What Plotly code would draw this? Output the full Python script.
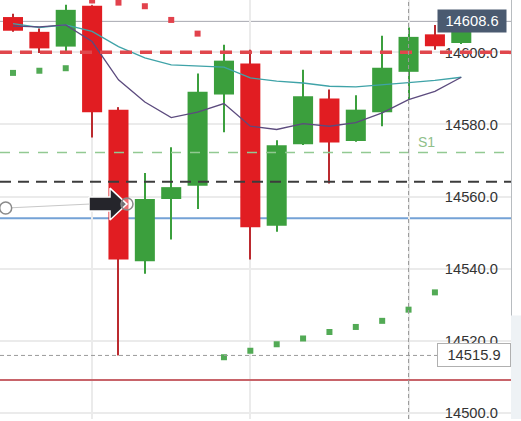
import plotly.graph_objects as go

# ---------------- data ----------------
candle_idx = list(range(18))
opens  = [14609.8, 14605.7, 14601.6, 14612.9, 14584.1, 14542.0, 14559.3, 14563.0, 14588.3,
          14596.9, 14551.9, 14574.5, 14587.2, 14575.4, 14583.4, 14594.6, 14605.0, 14602.6]
highs  = [14610.7, 14606.6, 14613.2, 14613.1, 14584.8, 14566.5, 14573.7, 14594.1, 14602.1,
          14600.7, 14575.6, 14595.2, 14589.7, 14588.1, 14604.6, 14606.9, 14607.6, 14609.4]
lows   = [14605.7, 14599.8, 14600.2, 14576.4, 14515.9, 14538.6, 14548.1, 14556.5, 14577.8,
          14542.5, 14550.2, 14574.3, 14563.6, 14575.2, 14579.5, 14586.9, 14600.7, 14602.3]
closes = [14606.0, 14601.1, 14611.8, 14583.4, 14542.5, 14559.3, 14562.6, 14589.1, 14597.7,
          14551.5, 14574.2, 14587.8, 14575.0, 14584.1, 14595.7, 14604.3, 14601.7, 14608.6]

ma_fast = [14607.3, 14607.1, 14607.6, 14603.0, 14592.4, 14586.2, 14581.9, 14583.4, 14585.8,
           14579.5, 14578.6, 14580.2, 14579.5, 14580.5, 14583.2, 14586.9, 14589.2, 14593.1]
ma_slow = [14608.0, 14606.9, 14607.6, 14605.8, 14601.6, 14598.5, 14596.5, 14596.1, 14595.9,
           14592.9, 14592.0, 14591.5, 14590.6, 14590.4, 14590.9, 14591.6, 14592.2, 14593.1]

sar_down_idx = [3, 4, 5, 6, 7]
sar_down = [14614.4, 14613.8, 14612.8, 14609.0, 14605.2]
sar_up_idx = [0, 1, 2, 8, 9, 10, 11, 12, 13, 14, 15, 16]
sar_up = [14594.3, 14594.9, 14595.6, 14515.4, 14517.2, 14519.0, 14520.6, 14522.4,
          14523.8, 14525.5, 14528.6, 14533.4]

last_price = 14608.6
level_red_dash = 14600.0
level_s1 = 14572.2
level_black_dash = 14564.1
level_blue = 14554.0
cross_price = 14515.9
cross_idx = 15
level_red = 14509.1
arrow_start = (-0.277, 14556.8)
arrow_end = (4.323, 14557.9)

y_ticks = [14500, 14520, 14540, 14560, 14580, 14600]
x_grid = [3, 9, 15]

X_RANGE = [-0.493, 18.885]
Y_RANGE = [14498.26, 14614.53]
W, H = 521, 421
PLOT_W = W - 10

# ---------------- figure ----------------
GREEN = "#3b9f3d"
RED = "#e11d22"
RED_WICK = "#bb2a2f"

fig = go.Figure()

up = [i for i in candle_idx if closes[i] >= opens[i]]
dn = [i for i in candle_idx if closes[i] < opens[i]]

for ids, wc in ((up, GREEN), (dn, RED_WICK)):
    fig.add_trace(go.Bar(x=ids, base=[lows[i] for i in ids],
                         y=[highs[i] - lows[i] for i in ids], width=0.04,
                         marker=dict(color=wc, line=dict(width=0)),
                         hoverinfo="skip", showlegend=False))
for ids, bc in ((up, GREEN), (dn, RED)):
    fig.add_trace(go.Bar(x=ids, base=[min(opens[i], closes[i]) for i in ids],
                         y=[abs(closes[i] - opens[i]) for i in ids], width=0.76,
                         marker=dict(color=bc, line=dict(width=0)),
                         hoverinfo="skip", showlegend=False))

fig.add_trace(go.Scatter(x=candle_idx, y=ma_slow, mode="lines",
                         line=dict(color="#3fa3a8", width=1.3), showlegend=False))
fig.add_trace(go.Scatter(x=candle_idx, y=ma_fast, mode="lines",
                         line=dict(color="#5c4b7e", width=1.3), showlegend=False))
fig.add_trace(go.Scatter(x=sar_down_idx, y=sar_down, mode="markers",
                         marker=dict(symbol="square", size=6, color="#e2424c"),
                         showlegend=False))
fig.add_trace(go.Scatter(x=sar_up_idx, y=sar_up, mode="markers",
                         marker=dict(symbol="square", size=6, color="#52aa55"),
                         showlegend=False))

# drawing tool: arrow icon (outline in screen pixels, converted to data units)
px_x = PLOT_W / (X_RANGE[1] - X_RANGE[0])
px_y = H / (Y_RANGE[1] - Y_RANGE[0])
icon = [(-38, -7), (-17, -7), (-17, -16), (0, 0), (-17, 16), (-17, 7), (-38, 7), (-38, -7)]
ax, ay = arrow_end
fig.add_trace(go.Scatter(x=[ax + dx / px_x for dx, dy in icon],
                         y=[ay - dy / px_y for dx, dy in icon],
                         mode="lines", fill="toself", fillcolor="#25252b",
                         line=dict(color="white", width=1.5), hoverinfo="skip",
                         showlegend=False))

def hline(y, color, width, dash="solid", layer="above"):
    fig.add_shape(type="line", xref="paper", x0=0, x1=1, yref="y", y0=y, y1=y,
                  line=dict(color=color, width=width, dash=dash), layer=layer)

hline(last_price, "#a6a7b0", 1, layer="below")
hline(level_red_dash, "#e0474c", 3.5, "12px,8px")
hline(level_s1, "#92c992", 1.5, "10px,9px")
hline(level_black_dash, "#3c3c3c", 2, "11px,7px")
hline(level_blue, "#74a2d6", 2, layer="below")
hline(cross_price, "#9a9a9a", 1, "4px,3px")
hline(level_red, "#c8646a", 2)
fig.add_shape(type="line", xref="x", x0=cross_idx, x1=cross_idx, yref="paper", y0=0, y1=1,
              line=dict(color="#9a9a9a", width=1, dash="4px,3px"), layer="above")

fig.add_shape(type="line", xref="x", yref="y", x0=arrow_start[0], y0=arrow_start[1],
              x1=arrow_end[0] - 38 / px_x, y1=arrow_end[1], line=dict(color="#c8c8c8", width=1),
              layer="above")
fig.add_shape(type="circle", xref="x", yref="y", xsizemode="pixel", ysizemode="pixel",
              xanchor=arrow_end[0], yanchor=arrow_end[1], x0=-6, x1=6, y0=-6, y1=6,
              fillcolor="rgba(255,255,255,0.35)", line=dict(color="#8a8a8a", width=1.5), layer="above")
fig.add_shape(type="circle", xref="x", yref="y", xsizemode="pixel", ysizemode="pixel",
              xanchor=arrow_start[0], yanchor=arrow_start[1], x0=-6, x1=6, y0=-6, y1=6,
              fillcolor="white", line=dict(color="#8a8a8a", width=1.5), layer="above")

# right side panel
fig.add_shape(type="rect", xref="paper", yref="paper", x0=1, x1=1 + 10 / PLOT_W, y0=0, y1=104 / H,
              fillcolor="#eef2f5", line=dict(width=0), layer="above")

fig.add_annotation(x=15.68, y=level_s1, xref="x", yref="y", text="S1", showarrow=False,
                   yanchor="bottom", yshift=1, font=dict(color="#8fc08a", size=14, family="Arial"))
fig.add_annotation(x=507 / PLOT_W, xref="paper", y=last_price, yref="y", text=f"{last_price:.1f}",
                   showarrow=False, xanchor="right", yanchor="middle", bgcolor="#4a5a70",
                   borderpad=3, width=62, font=dict(color="white", size=14.7, family="Arial"))
fig.add_annotation(x=1, xref="paper", y=cross_price, yref="y", text=f"{cross_price:.1f}",
                   showarrow=False, xanchor="right", yanchor="middle", bgcolor="white",
                   bordercolor="#b0b0b0", borderwidth=1, borderpad=3, width=66,
                   font=dict(color="#333333", size=14.7, family="Arial"))

fig.update_layout(
    width=W, height=H, margin=dict(l=0, r=10, t=0, b=0, pad=0),
    paper_bgcolor="white", plot_bgcolor="white", barmode="overlay", showlegend=False,
    xaxis=dict(range=X_RANGE, tickvals=x_grid, showticklabels=False, ticks="",
               showgrid=True, gridcolor="#ebebeb", gridwidth=1.5, zeroline=False, showline=False),
    yaxis=dict(range=Y_RANGE, side="right", tickvals=y_ticks, tickformat=".1f",
               ticklabelposition="inside", ticklabeloverflow="allow", ticks="",
               ticklabelstandoff=13,
               showgrid=True, gridcolor="#ebebeb", gridwidth=1.5, zeroline=False,
               showline=True, linecolor="#b8bcc0", linewidth=1,
               tickfont=dict(size=14.7, color="#333333", family="Arial")),
)

fig.write_html("out.html", config={"displayModeBar": False},
               post_script="document.body.style.margin='0px';document.body.style.overflow='hidden';")
